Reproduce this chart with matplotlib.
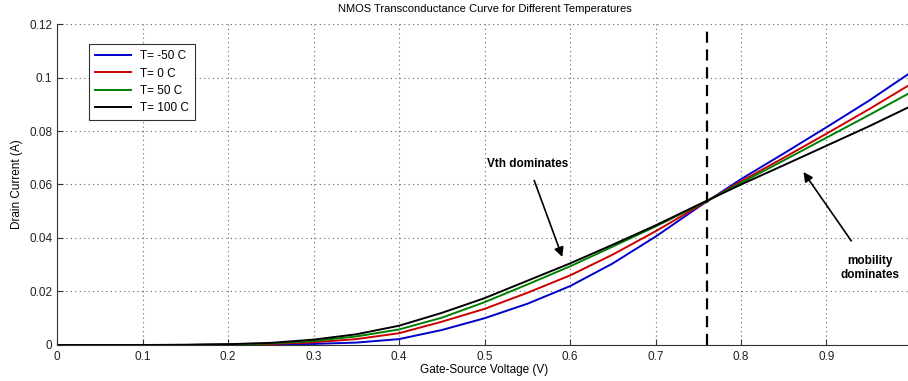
import numpy as np
import matplotlib
matplotlib.use('Agg')
import matplotlib.pyplot as plt

plt.rcParams['font.family'] = ['Liberation Sans', 'DejaVu Sans']

# values (Vgs in V, Id in A)
vgs = [0.0, 0.05, 0.1, 0.15, 0.2, 0.25, 0.3, 0.35, 0.4, 0.45, 0.5,
       0.55, 0.6, 0.65, 0.7, 0.75, 0.8, 0.85, 0.9, 0.95, 1.0]
id_m50 = [0, 0, 0, 0, 0.0001, 0.0002, 0.0004, 0.0009, 0.0022, 0.0056, 0.0100,
          0.0154, 0.0220, 0.0305, 0.0405, 0.0515, 0.0620, 0.0716, 0.0814, 0.0914, 0.1022]
id_0 = [0, 0, 0, 0, 0.0001, 0.0004, 0.0010, 0.0022, 0.0044, 0.0087, 0.0135,
        0.0195, 0.0260, 0.0338, 0.0425, 0.0518, 0.0612, 0.0700, 0.0790, 0.0882, 0.0978]
id_50 = [0, 0, 0, 0, 0.0002, 0.0006, 0.0015, 0.0032, 0.0058, 0.0102, 0.0160,
         0.0226, 0.0294, 0.0368, 0.0443, 0.0522, 0.0606, 0.0690, 0.0775, 0.0860, 0.0947]
id_100 = [0, 0, 0, 0.0001, 0.0003, 0.0008, 0.0020, 0.0040, 0.0072, 0.0120, 0.0175,
          0.0240, 0.0305, 0.0375, 0.0447, 0.0524, 0.0600, 0.0672, 0.0745, 0.0818, 0.0895]
labels = ['T= -50 C', 'T= 0 C', 'T= 50 C', 'T= 100 C']
colors = ['#0000cc', '#cc0000', '#008000', '#000000']
v_cross = 0.76

fig = plt.figure(figsize=(9.08, 3.81), dpi=100)
ax = fig.add_axes([0.0628, 0.0945, 0.9416, 0.8425])

for y, lab, c in zip([id_m50, id_0, id_50, id_100], labels, colors):
    ax.plot(vgs, y, color=c, lw=1.4, label=lab)

ax.axvline(v_cross, ymin=0, ymax=0.988, color='k', ls=(0, (5, 3)), lw=1.6)

ax.set_xlim(0, 1)
ax.set_ylim(0, 0.12)
ax.set_xticks(np.arange(0, 0.95, 0.1))
ax.set_xticklabels(['0', '0.1', '0.2', '0.3', '0.4', '0.5', '0.6', '0.7', '0.8', '0.9'])
ax.set_yticks(np.arange(0, 0.121, 0.02))
ax.set_yticklabels(['0', '0.02', '0.04', '0.06', '0.08', '0.1', '0.12'])
ax.tick_params(direction='in', length=4, labelsize=8.5, colors='#333333', labelcolor='#222222')
ax.tick_params(axis='x', pad=4)
ax.grid(True, ls=(0, (1, 3)), color='#666666', lw=0.8)
ax.spines['top'].set_visible(False)
ax.spines['right'].set_visible(False)
for s in ['left', 'bottom']:
    ax.spines[s].set_color('#333333')

ax.set_title('NMOS Transconductance Curve for Different Temperatures', fontsize=8, pad=9)
ax.set_xlabel('Gate-Source Voltage (V)', fontsize=8.5, labelpad=1)
ax.set_ylabel('Drain Current (A)', fontsize=8.5, labelpad=4)

leg = ax.legend(loc='upper left', bbox_to_anchor=(0.031, 0.955), fontsize=8.5,
                handlelength=3.0, labelspacing=0.45, borderpad=0.5,
                fancybox=False, framealpha=1, edgecolor='#333333')
leg.get_frame().set_linewidth(0.8)

ax.annotate('Vth dominates', xy=(0.591, 0.0329), xytext=(0.551, 0.0677),
            ha='center', va='center', fontsize=8.5, fontweight='bold',
            arrowprops=dict(arrowstyle='-|>', color='k', lw=1.2, mutation_scale=14,
                            shrinkA=6, shrinkB=0))
ax.annotate('mobility\ndominates', xy=(0.873, 0.0647), xytext=(0.951, 0.0288),
            ha='center', va='center', fontsize=8.5, fontweight='bold',
            arrowprops=dict(arrowstyle='-|>', color='k', lw=1.2, mutation_scale=14,
                            shrinkA=10, shrinkB=0))

fig.savefig('out.png', dpi=100)
